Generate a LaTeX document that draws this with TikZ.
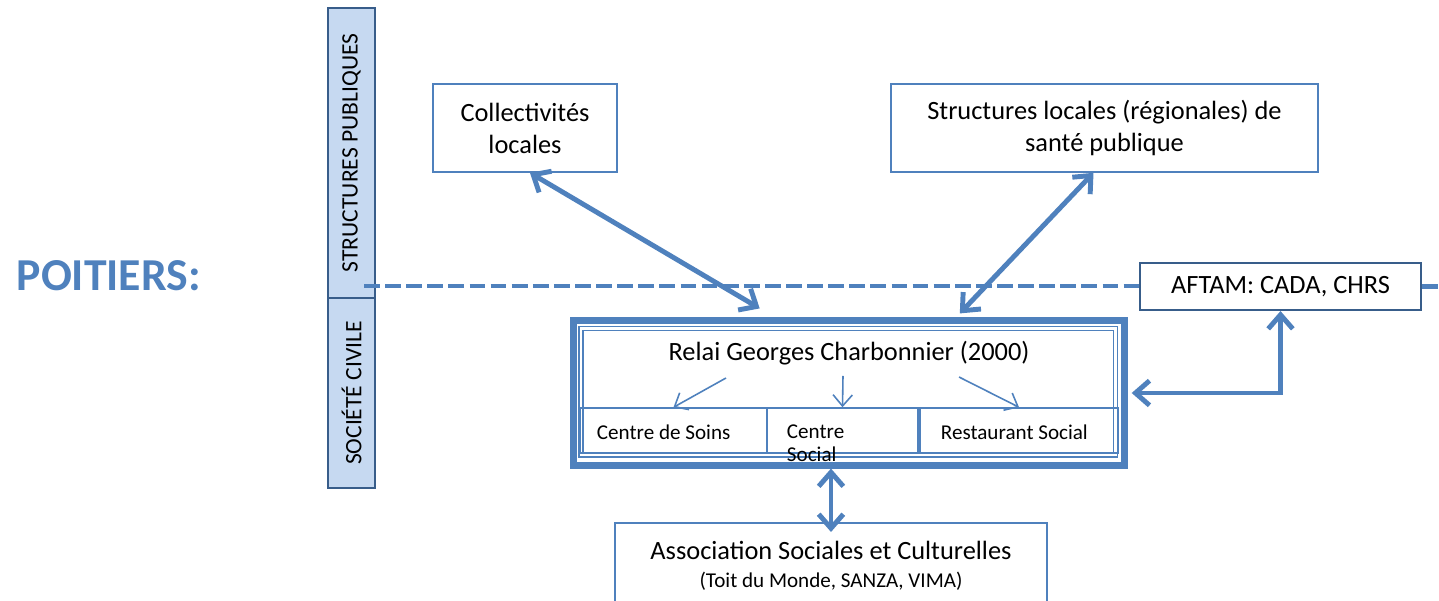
\documentclass[tikz,border=0pt]{standalone}
\usepackage{fontspec}
\setmainfont{Carlito}
\usepackage{tikz}
\usetikzlibrary{arrows.meta,positioning}

\definecolor{officeblue}{HTML}{4F81BD}
\definecolor{darkblue}{HTML}{385D8A}
\definecolor{paleblue}{HTML}{C6D9F1}

\tikzset{
  box/.style={draw=officeblue, line width=0.45pt, align=center, font=\fontsize{7.5}{9.1}\selectfont},
  colbox/.style={draw=darkblue, line width=0.6pt, fill=paleblue, rotate=90, minimum height=0.47cm, font=\fontsize{6.7}{8}\selectfont},
  subbox/.style={draw=officeblue, line width=0.4pt, minimum height=0.45cm},
  subtext/.style={anchor=west, inner sep=0, align=left, font=\fontsize{6}{6.6}\selectfont},
  bigarr/.style={draw=officeblue, line width=1.4pt, {Straight Barb[length=4pt,width=7pt]}-{Straight Barb[length=4pt,width=7pt]}},
  smallarr/.style={draw=officeblue, line width=0.45pt, -{Straight Barb[length=3.2pt,width=5.5pt]}},
  dashline/.style={draw=officeblue, line width=1.3pt, dash pattern=on 4.5pt off 1.5pt}
}

\begin{document}
\begin{tikzpicture}[x=0.01cm, y=-0.01cm]
    \useasboundingbox (0,0) rectangle (1439,601);
    \clip (0,0) rectangle (1439,601);

    % city and the two columns
    \node[anchor=west, inner sep=0, text=officeblue, font=\fontsize{13}{15}\selectfont\bfseries] (city) at (16,276) {POITIERS:};
    \node[colbox, minimum width=2.9cm] (pub) at (351.5,153) {STRUCTURES PUBLIQUES};
    \node[colbox, minimum width=1.9cm] (civ) at (351.5,393) {SOCIÉTÉ CIVILE};

    % public partners
    \node[box, minimum width=1.84cm, minimum height=0.88cm] (coll) at (525,128) {Collectivités\\locales};
    \node[box, minimum width=4.27cm, minimum height=0.88cm] (struct) at (1104.5,128) {Structures locales (régionales) de\\santé publique};
    \node[box, draw=darkblue, line width=0.6pt, minimum width=2.81cm, minimum height=0.47cm] (aftam) at (1280.5,286.5) {AFTAM: CADA, CHRS};

    % border public / civil
    \coordinate (dashstart) at (364,286);
    \draw[dashline] (dashstart) -- (dashstart -| aftam.west);
    \draw[dashline] (aftam.east) -- ++(19,0);

    % relai
    \node[draw=officeblue, line width=2pt, minimum width=5.505cm, minimum height=1.44cm, inner sep=0] (relai) at (848.75,393) {};
    \draw[officeblue, line width=0.35pt, double=white, double distance=0.8pt] (581,328.5) rectangle (1115.5,455);
    \node[font=\fontsize{7.5}{9.1}\selectfont] (title) at (849,353) {Relai Georges Charbonnier (2000)};
    \node[subbox, minimum width=1.87cm] (soins) at (673.5,430.5) {};
    \node[subbox, minimum width=1.51cm] (socl) at (842.5,430.5) {};
    \node[subbox, minimum width=1.98cm] (resto) at (1019,430.5) {};
    \node[subtext] (soinstxt) at ([xshift=0.17cm,yshift=-0.02cm]soins.west) {Centre de Soins};
    \node[subtext, anchor=north west] (socltxt) at ([xshift=0.2cm,yshift=-0.17cm]socl.north west) {Centre\\Social};
    \node[subtext] (restotxt) at ([xshift=0.21cm,yshift=-0.02cm]resto.west) {Restaurant Social};
    \foreach \xs/\ys/\target in {726/378/soins, 843/376/socl, 959/377/resto}
      \draw[smallarr] (\xs,\ys) -- (\target.north);

    % associations
    \node[box, anchor=north, minimum width=4.32cm, minimum height=1.2cm] (assoc) at (831,522) {};
    \node[align=center, font=\fontsize{7.5}{7.8}\selectfont, below=0.07cm of assoc.north] (assoctxt) {Association Sociales et Culturelles\\{\fontsize{6}{6.8}\selectfont (Toit du Monde, SANZA, VIMA)}};

    % links
    \draw[bigarr] ([xshift=0.05cm]coll.south) -- ([xshift=-0.89cm,yshift=0.09cm]relai.north);
    \draw[bigarr] ([xshift=-0.11cm]struct.south) -- ([xshift=1.11cm,yshift=0.04cm]relai.north);
    \draw[bigarr] (aftam.south) |- ([xshift=0.04cm]relai.east);
    \draw[bigarr] (assoc.north |- relai.south) -- ([yshift=-0.1cm]assoc.north);
\end{tikzpicture}
\end{document}
